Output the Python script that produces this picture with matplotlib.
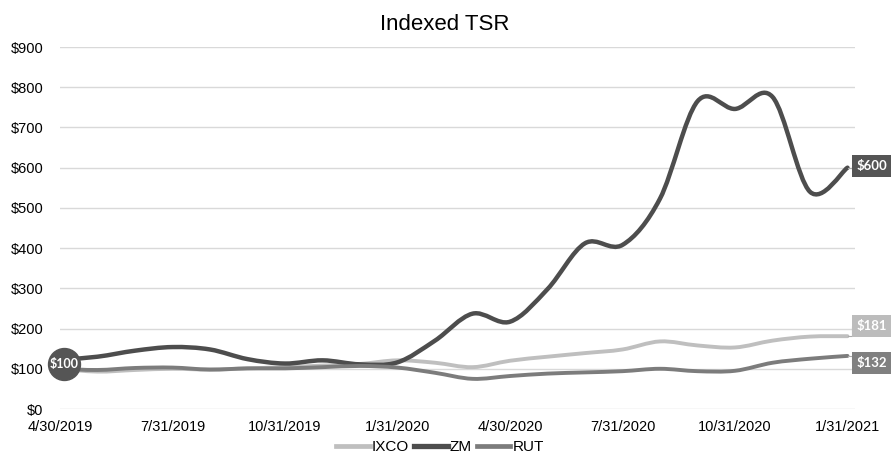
import matplotlib
matplotlib.use("Agg")
import matplotlib.pyplot as plt
from matplotlib.path import Path
from matplotlib.patches import PathPatch
from matplotlib.lines import Line2D
import numpy as np

months = ["4/30/2019", "5/31/2019", "6/30/2019", "7/31/2019", "8/31/2019", "9/30/2019",
          "10/31/2019", "11/30/2019", "12/31/2019", "1/31/2020", "2/29/2020", "3/31/2020",
          "4/30/2020", "5/31/2020", "6/30/2020", "7/31/2020", "8/31/2020", "9/30/2020",
          "10/31/2020", "11/30/2020", "12/31/2020", "1/31/2021"]
ixco = [100, 93, 97, 100, 98, 101, 104, 108, 112, 121, 115, 104, 120, 130, 139, 148, 168, 158, 153, 170, 180, 181]
zm = [122, 130, 145, 154, 148, 124, 113, 121, 111, 116, 170, 237, 217, 298, 412, 408, 523, 765, 746, 776, 540, 600]
rut = [100, 97, 102, 103, 98, 101, 101, 104, 107, 103, 90, 75, 82, 88, 91, 94, 100, 94, 95, 115, 125, 132]
start_value = 100
yticks = [0, 100, 200, 300, 400, 500, 600, 700, 800, 900]
tick_idx = [0, 3, 6, 9, 12, 15, 18, 21]

plt.rcParams['font.family'] = ['Liberation Sans', 'DejaVu Sans']

fig = plt.figure(figsize=(8.91, 4.57), dpi=100)
W, H = 891, 457
ax = fig.add_axes([60 / W, 48 / H, (855 - 60) / W, (410 - 48) / H])
ax.set_xlim(0, 21.2)
ax.set_ylim(0, 900)
for s in ax.spines.values():
    s.set_visible(False)
ax.set_yticks(yticks)
ax.set_yticklabels([f"${v}" for v in yticks], fontsize=10.5)
ax.set_xticks(tick_idx)
ax.set_xticklabels([months[i] for i in tick_idx], fontsize=10.5)
ax.tick_params(length=0)
ax.tick_params(axis='x', pad=8)
ax.tick_params(axis='y', pad=12)
ax.yaxis.grid(True, color='#d9d9d9', linewidth=1.0)
ax.set_axisbelow(True)


def smooth_path(ys):
    xs = np.arange(len(ys), dtype=float)
    ys = np.asarray(ys, dtype=float)
    pts = np.column_stack([xs, ys])
    n = len(pts)
    verts = [pts[0]]
    codes = [Path.MOVETO]
    for i in range(n - 1):
        p0 = pts[i - 1] if i > 0 else pts[i]
        p1 = pts[i]
        p2 = pts[i + 1]
        p3 = pts[i + 2] if i + 2 < n else pts[i + 1]
        c1 = p1 + (p2 - p0) / 6.0
        c2 = p2 - (p3 - p1) / 6.0
        verts += [c1, c2, p2]
        codes += [Path.CURVE4] * 3
    return Path(verts, codes)


series = [("IXCO", ixco, '#bfbfbf', 2.8), ("ZM", zm, '#4d4d4d', 3.2), ("RUT", rut, '#7c7c7c', 2.8)]
handles = []
for name, vals, col, lw in series:
    ax.add_patch(PathPatch(smooth_path(vals), fill=False, edgecolor=col, lw=lw,
                           capstyle='round', joinstyle='round', zorder=3))
    handles.append(Line2D([], [], color=col, lw=lw + 0.6))

fig.text(445 / W, 1 - 25 / H, "Indexed TSR", ha='center', va='center', fontsize=16)

fig.legend(handles, [s[0] for s in series], loc='center', bbox_to_anchor=(440 / W, 10 / H),
           ncol=3, frameon=False, fontsize=11, handlelength=2.2, handletextpad=0.15,
           columnspacing=0.3, borderaxespad=0)

# start marker
mx, my = 0.1, start_value + 12
ax.plot([mx], [my], marker='o', markersize=23, color='#555555',
        clip_on=False, zorder=6, linestyle='none')
ax.text(mx, my, f"${start_value}", ha='center', va='center', color='white',
        fontsize=9, fontweight='bold', family=['Lato', 'DejaVu Sans'], zorder=7, clip_on=False)


# end labels
def end_label(val, ybox, fc):
    ax_to_fig = ax.transData + fig.transFigure.inverted()
    x_end, y_end = ax_to_fig.transform((21, val))
    yb = 1 - ybox / H
    x1 = 852 / W
    x2 = 857 / W
    fig.add_artist(Line2D([x_end, x1, x1, x2], [y_end, y_end, yb, yb], color='#aaaaaa', lw=0.8,
                          transform=fig.transFigure))
    fig.text(857 / W, yb, f"${val}", ha='left', va='center', color='white', fontsize=9.5,
             fontweight='bold', family=['Lato', 'DejaVu Sans'],
             bbox=dict(boxstyle='square,pad=0.35', fc=fc, ec='none'))


end_label(zm[-1], 166, '#555555')
end_label(ixco[-1], 326, '#bcbcbc')
end_label(rut[-1], 363, '#808080')

fig.savefig("out.png", dpi=100)
